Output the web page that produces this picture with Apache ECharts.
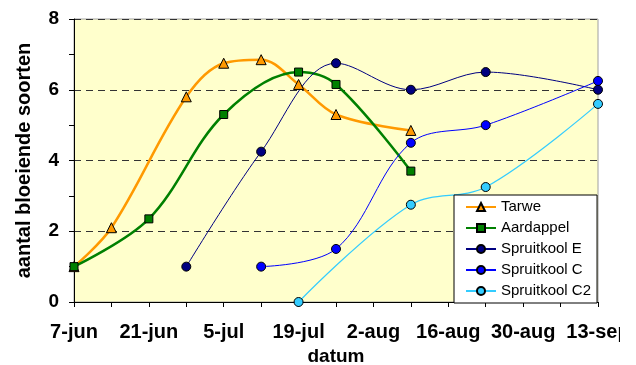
<!DOCTYPE html>
<html>
<head>
<meta charset="utf-8">
<script src="https://cdn.jsdelivr.net/npm/echarts@6/dist/echarts.min.js"></script>
<style>
  html, body { margin: 0; padding: 0; background: #ffffff; }
  #chart { width: 636px; height: 365px; }
</style>
</head>
<body>
<div id="chart"></div>
<script>
// Observation dates (day-month) and number of flowering species per crop
const seasonYear = 2004;
const seasonStart = '06-07';

const tarweDates = ['06-07', '06-14', '06-28', '07-05', '07-12', '07-19', '07-26', '08-09'];
const tarweValues = [1, 2.1, 5.8, 6.75, 6.85, 6.15, 5.3, 4.85];

const aardappelDates = ['06-07', '06-21', '07-05', '07-19', '07-26', '08-09'];
const aardappelValues = [1, 2.35, 5.3, 6.5, 6.15, 3.7];

const spruitkoolEDates = ['06-28', '07-12', '07-26', '08-09', '08-23', '09-13'];
const spruitkoolEValues = [1, 4.25, 6.75, 6.0, 6.5, 6.0];

const spruitkoolCDates = ['07-12', '07-26', '08-09', '08-23', '09-13'];
const spruitkoolCValues = [1, 1.5, 4.5, 5.0, 6.25];

const spruitkoolC2Dates = ['07-19', '08-09', '08-23', '09-13'];
const spruitkoolC2Values = [0, 2.75, 3.25, 5.6];

const xTickLabels = ['7-jun', '21-jun', '5-jul', '19-jul', '2-aug', '16-aug', '30-aug', '13-sep'];
const yTickLabels = ['0', '2', '4', '6', '8'];

// days since the first observation date
function dayIndex(md) {
  const t = s => Date.parse(seasonYear + '-' + s + 'T00:00:00Z');
  return Math.round((t(md) - t(seasonStart)) / 86400000);
}
function pairs(dates, values) {
  return dates.map((d, i) => [dayIndex(d), values[i]]);
}

const font = 'Liberation Sans, Arial, sans-serif';

function lineSeries(name, dates, values, color, symbol, size, width) {
  return {
    name: name,
    type: 'line',
    data: pairs(dates, values),
    smooth: 0.35,
    clip: false,
    symbol: symbol,
    symbolSize: size,
    lineStyle: { color: color, width: width },
    itemStyle: { color: color, borderColor: '#000000', borderWidth: 1 },
    emphasis: { disabled: true }
  };
}

const chart = echarts.init(document.getElementById('chart'), null, { renderer: 'canvas' });

chart.setOption({
  animation: false,
  backgroundColor: '#ffffff',
  textStyle: { fontFamily: font },
  grid: {
    left: 74, top: 19, right: 38, bottom: 63,
    containLabel: false,
    outerBoundsMode: 'none',
    show: true,
    backgroundColor: '#FFFFCC',
    borderColor: '#a0a0a0',
    borderWidth: 1
  },
  xAxis: {
    type: 'value',
    min: 0, max: 98, interval: 14,
    name: 'datum',
    nameLocation: 'middle',
    nameGap: 45,
    nameTextStyle: { fontFamily: font, fontWeight: 'bold', fontSize: 19, color: '#000' },
    axisLine: { show: true, lineStyle: { color: '#000', width: 1 } },
    axisTick: { show: true, length: 5, lineStyle: { color: '#000' } },
    minorTick: { show: true, splitNumber: 2, length: 5, lineStyle: { color: '#000' } },
    splitLine: { show: false },
    axisLabel: {
      margin: 20,
      fontFamily: font, fontWeight: 'bold', fontSize: 20, color: '#000',
      formatter: v => xTickLabels[Math.round(v / 14)] || ''
    }
  },
  yAxis: {
    type: 'value',
    min: 0, max: 8, interval: 2,
    name: 'aantal bloeiende soorten',
    nameLocation: 'middle',
    nameGap: 40,
    nameTextStyle: { fontFamily: font, fontWeight: 'bold', fontSize: 20, color: '#000' },
    axisLine: { show: true, lineStyle: { color: '#000', width: 1 } },
    axisTick: { show: true, length: 5, lineStyle: { color: '#000' } },
    minorTick: { show: true, splitNumber: 2, length: 5, lineStyle: { color: '#000' } },
    splitLine: { show: true, lineStyle: { color: '#333333', width: 1, type: [7, 5] } },
    axisLabel: {
      margin: 15,
      fontFamily: font, fontWeight: 'bold', fontSize: 19, color: '#000',
      formatter: v => yTickLabels[Math.round(v / 2)]
    }
  },
  legend: {
    orient: 'vertical',
    left: 454, top: 195,
    padding: [4, 6, 4, 11],
    itemGap: 5,
    itemWidth: 30,
    itemHeight: 10,
    backgroundColor: '#ffffff',
    borderColor: '#000000',
    borderWidth: 1,
    borderRadius: 0,
    textStyle: { fontFamily: font, fontSize: 15, color: '#000', lineHeight: 16 },
    data: ['Tarwe', 'Aardappel', 'Spruitkool E', 'Spruitkool C', 'Spruitkool C2']
  },
  series: [
    lineSeries('Tarwe', tarweDates, tarweValues, '#FF9900', 'triangle', 10, 2.5),
    lineSeries('Aardappel', aardappelDates, aardappelValues, '#008000', 'rect', 8, 2.5),
    lineSeries('Spruitkool E', spruitkoolEDates, spruitkoolEValues, '#000080', 'circle', 9, 1),
    lineSeries('Spruitkool C', spruitkoolCDates, spruitkoolCValues, '#0000FF', 'circle', 9, 1),
    lineSeries('Spruitkool C2', spruitkoolC2Dates, spruitkoolC2Values, '#33CCFF', 'circle', 9, 1.2)
  ],
  graphic: [{
    // chart area ends here; the last date label is cut at this edge
    type: 'rect',
    left: 620, top: 305,
    shape: { width: 16, height: 45 },
    style: { fill: '#ffffff' },
    z: 100
  }]
});
</script>
</body>
</html>
